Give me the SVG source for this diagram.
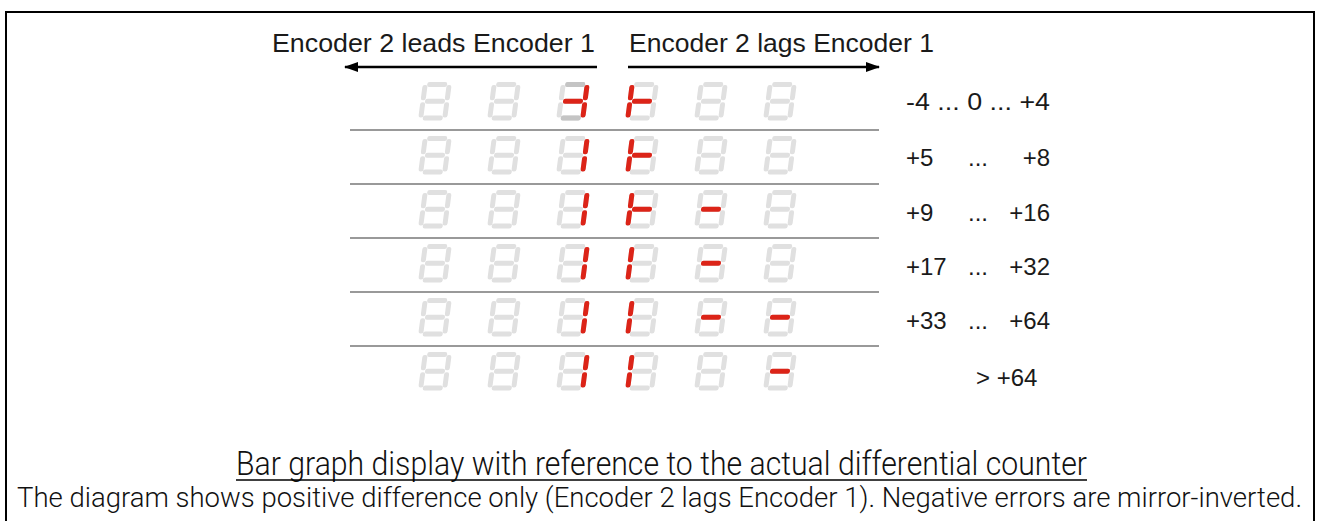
<svg xmlns="http://www.w3.org/2000/svg" xmlns:xlink="http://www.w3.org/1999/xlink" width="1319" height="521" viewBox="0 0 1319 521">
<style>
.lbl{font-family:"Liberation Sans",Arial,sans-serif;font-size:26px;fill:#1a1a1a}
.val{font-family:"Liberation Sans",Arial,sans-serif;font-size:24px;fill:#1a1a1a}
.cond{font-family:"Liberation Sans Narrow","Roboto","Liberation Sans",sans-serif;font-weight:300;fill:#111}
.sep{stroke:#777;stroke-width:1.5}
.r{fill:#dc2418}
.k{fill:#c4c4c4}
.off{fill:#e0e0e0}
</style>
<defs>
<rect id="sa" x="4.5" y="0" width="20" height="5" rx="2.2"/>
<rect id="sg" x="4.5" y="16.7" width="20" height="5" rx="2.2"/>
<rect id="sd" x="4.5" y="33.4" width="20" height="5" rx="2.2"/>
<rect id="sf" x="0" y="3" width="5" height="15.2" rx="2.2"/>
<rect id="se" x="0" y="20.2" width="5" height="15.2" rx="2.2"/>
<rect id="sb" x="24" y="3" width="5" height="15.2" rx="2.2"/>
<rect id="sc" x="24" y="20.2" width="5" height="15.2" rx="2.2"/>
<g id="eight" class="off">
<use href="#sa"/><use href="#sb"/><use href="#sc"/><use href="#sd"/><use href="#se"/><use href="#sf"/><use href="#sg"/>
</g>
<marker id="ah" viewBox="0 0 14 10" refX="13" refY="5" markerWidth="14" markerHeight="10" markerUnits="userSpaceOnUse" orient="auto">
<path d="M0,0 L14,5 L0,10 z" fill="#000"/>
</marker>
</defs>
<rect width="1319" height="521" fill="#fff"/>
<path id="frame" d="M6,530 V12 H1314 V530" fill="none" stroke="#000" stroke-width="2"/>

<g id="headers">
<text class="lbl" x="272" y="52" textLength="323" lengthAdjust="spacingAndGlyphs">Encoder 2 leads Encoder 1</text>
<text class="lbl" x="629" y="52" textLength="305" lengthAdjust="spacingAndGlyphs">Encoder 2 lags Encoder 1</text>
</g>

<g id="connectors" stroke="#000" stroke-width="2.5" fill="none">
<line x1="597" y1="67" x2="345" y2="67" marker-end="url(#ah)"/>
<line x1="628" y1="67" x2="879" y2="67" marker-end="url(#ah)"/>
</g>

<g id="separators">
<line class="sep" x1="350" y1="130" x2="879" y2="130"/>
<line class="sep" x1="350" y1="184" x2="879" y2="184"/>
<line class="sep" x1="350" y1="238" x2="879" y2="238"/>
<line class="sep" x1="350" y1="292" x2="879" y2="292"/>
<line class="sep" x1="350" y1="346" x2="879" y2="346"/>
</g>

<g id="row1">
<g transform="translate(423,82) skewX(-7.5)"><use href="#eight"/></g>
<g transform="translate(492,82) skewX(-7.5)"><use href="#eight"/></g>
<g transform="translate(561,82) skewX(-7.5)"><use href="#eight"/><use href="#sa" class="k"/><use href="#sd" class="k"/><use href="#sg" class="r"/><use href="#sb" class="r"/><use href="#sc" class="r"/></g>
<g transform="translate(630,82) skewX(-7.5)"><use href="#eight"/><use href="#sf" class="r"/><use href="#se" class="r"/><use href="#sg" class="r"/></g>
<g transform="translate(699,82) skewX(-7.5)"><use href="#eight"/></g>
<g transform="translate(768,82) skewX(-7.5)"><use href="#eight"/></g>
<text class="val" x="906" y="110" textLength="144" lengthAdjust="spacingAndGlyphs">-4 ... 0 ... +4</text>
</g>

<g id="row2">
<g transform="translate(423,136) skewX(-7.5)"><use href="#eight"/></g>
<g transform="translate(492,136) skewX(-7.5)"><use href="#eight"/></g>
<g transform="translate(561,136) skewX(-7.5)"><use href="#eight"/><use href="#sb" class="r"/><use href="#sc" class="r"/></g>
<g transform="translate(630,136) skewX(-7.5)"><use href="#eight"/><use href="#sf" class="r"/><use href="#se" class="r"/><use href="#sg" class="r"/></g>
<g transform="translate(699,136) skewX(-7.5)"><use href="#eight"/></g>
<g transform="translate(768,136) skewX(-7.5)"><use href="#eight"/></g>
<text class="val" x="906" y="166">+5</text>
<text class="val" x="968" y="166">...</text>
<text class="val" x="1050" y="166" text-anchor="end">+8</text>
</g>

<g id="row3">
<g transform="translate(423,190) skewX(-7.5)"><use href="#eight"/></g>
<g transform="translate(492,190) skewX(-7.5)"><use href="#eight"/></g>
<g transform="translate(561,190) skewX(-7.5)"><use href="#eight"/><use href="#sb" class="r"/><use href="#sc" class="r"/></g>
<g transform="translate(630,190) skewX(-7.5)"><use href="#eight"/><use href="#sf" class="r"/><use href="#se" class="r"/><use href="#sg" class="r"/></g>
<g transform="translate(699,190) skewX(-7.5)"><use href="#eight"/><use href="#sg" class="r"/></g>
<g transform="translate(768,190) skewX(-7.5)"><use href="#eight"/></g>
<text class="val" x="906" y="221">+9</text>
<text class="val" x="968" y="221">...</text>
<text class="val" x="1050" y="221" text-anchor="end">+16</text>
</g>

<g id="row4">
<g transform="translate(423,244) skewX(-7.5)"><use href="#eight"/></g>
<g transform="translate(492,244) skewX(-7.5)"><use href="#eight"/></g>
<g transform="translate(561,244) skewX(-7.5)"><use href="#eight"/><use href="#sb" class="r"/><use href="#sc" class="r"/></g>
<g transform="translate(630,244) skewX(-7.5)"><use href="#eight"/><use href="#sf" class="r"/><use href="#se" class="r"/></g>
<g transform="translate(699,244) skewX(-7.5)"><use href="#eight"/><use href="#sg" class="r"/></g>
<g transform="translate(768,244) skewX(-7.5)"><use href="#eight"/></g>
<text class="val" x="906" y="275">+17</text>
<text class="val" x="968" y="275">...</text>
<text class="val" x="1050" y="275" text-anchor="end">+32</text>
</g>

<g id="row5">
<g transform="translate(423,298) skewX(-7.5)"><use href="#eight"/></g>
<g transform="translate(492,298) skewX(-7.5)"><use href="#eight"/></g>
<g transform="translate(561,298) skewX(-7.5)"><use href="#eight"/><use href="#sb" class="r"/><use href="#sc" class="r"/></g>
<g transform="translate(630,298) skewX(-7.5)"><use href="#eight"/><use href="#sf" class="r"/><use href="#se" class="r"/></g>
<g transform="translate(699,298) skewX(-7.5)"><use href="#eight"/><use href="#sg" class="r"/></g>
<g transform="translate(768,298) skewX(-7.5)"><use href="#eight"/><use href="#sg" class="r"/></g>
<text class="val" x="906" y="329">+33</text>
<text class="val" x="968" y="329">...</text>
<text class="val" x="1050" y="329" text-anchor="end">+64</text>
</g>

<g id="row6">
<g transform="translate(423,352) skewX(-7.5)"><use href="#eight"/></g>
<g transform="translate(492,352) skewX(-7.5)"><use href="#eight"/></g>
<g transform="translate(561,352) skewX(-7.5)"><use href="#eight"/><use href="#sb" class="r"/><use href="#sc" class="r"/></g>
<g transform="translate(630,352) skewX(-7.5)"><use href="#eight"/><use href="#sf" class="r"/><use href="#se" class="r"/></g>
<g transform="translate(699,352) skewX(-7.5)"><use href="#eight"/></g>
<g transform="translate(768,352) skewX(-7.5)"><use href="#eight"/><use href="#sg" class="r"/></g>
<text class="val" x="976" y="386">&gt; +64</text>
</g>

<g id="caption">
<text class="cond" x="236" y="475" font-size="33" textLength="851" lengthAdjust="spacingAndGlyphs">Bar graph display with reference to the actual differential counter</text>
<line x1="236" y1="480" x2="1087" y2="480" stroke="#000" stroke-width="1.5"/>
<text class="cond" x="17" y="507" font-size="27" textLength="1285" lengthAdjust="spacingAndGlyphs">The diagram shows positive difference only (Encoder 2 lags Encoder 1). Negative errors are mirror-inverted.</text>
</g>
</svg>
